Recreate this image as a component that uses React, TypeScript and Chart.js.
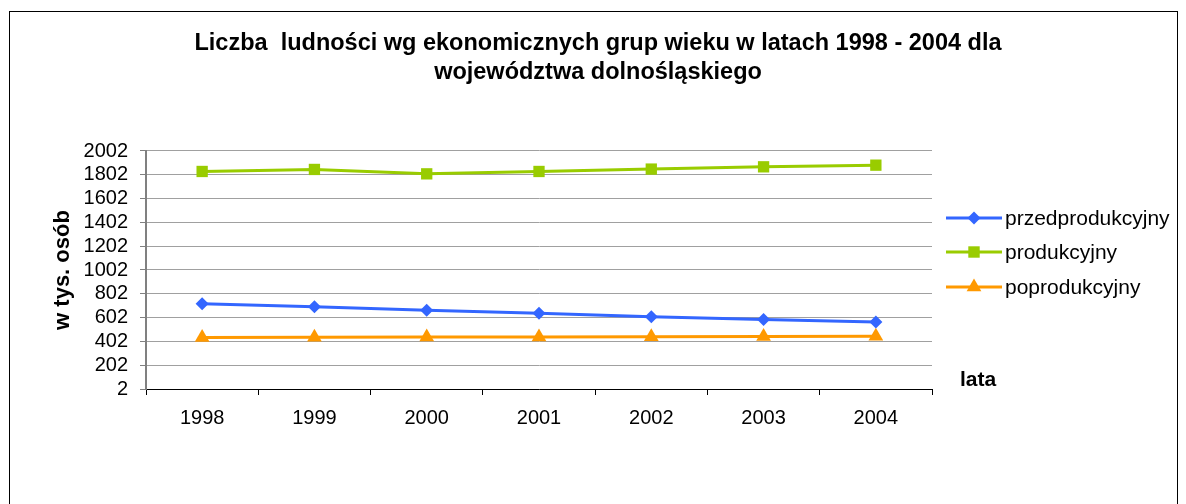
import React, { useEffect, useRef } from "react";
import { Chart, registerables } from "chart.js";

Chart.register(...registerables);

const years = ["1998", "1999", "2000", "2001", "2002", "2003", "2004"];
const przedprodukcyjny = [719, 694, 663, 638, 610, 585, 566];
const produkcyjny = [1830, 1847, 1810, 1830, 1850, 1869, 1883];
const poprodukcyjny = [434, 437, 438, 440, 442, 444, 446];
const seriesNames = ["przedprodukcyjny", "produkcyjny", "poprodukcyjny"];
const titleLines = [
  "Liczba  ludności wg ekonomicznych grup wieku w latach 1998 - 2004 dla",
  "województwa dolnośląskiego",
];
const yTitle = "w tys. osób";
const xTitle = "lata";

const FONT = "'Liberation Sans', Arial, sans-serif";
const BLUE = "#3366FF";
const GREEN = "#99CC00";
const ORANGE = "#FF9900";

function drawMarker(ctx: CanvasRenderingContext2D, kind: number, x: number, y: number) {
  ctx.beginPath();
  if (kind === 0) {
    ctx.moveTo(x, y - 6.5);
    ctx.lineTo(x + 6.5, y);
    ctx.lineTo(x, y + 6.5);
    ctx.lineTo(x - 6.5, y);
  } else if (kind === 1) {
    ctx.rect(x - 5.7, y - 5.7, 11.4, 11.4);
  } else {
    const r = 8.5;
    ctx.moveTo(x, y - r);
    ctx.lineTo(x + r * 0.866, y + r / 2);
    ctx.lineTo(x - r * 0.866, y + r / 2);
  }
  ctx.closePath();
  ctx.fill();
}

export default function App() {
  const ref = useRef<HTMLCanvasElement | null>(null);
  useEffect(() => {
    if (!ref.current) return;
    const decor = {
      id: "decor",
      beforeDraw(chart: any) {
        const ctx = chart.ctx;
        ctx.save();
        ctx.fillStyle = "#ffffff";
        ctx.fillRect(0, 0, chart.width, chart.height);
        ctx.strokeStyle = "#000000";
        ctx.lineWidth = 1;
        ctx.strokeRect(9.5, 11.5, 1168, 520);
        ctx.restore();
      },
      afterDraw(chart: any) {
        const ctx = chart.ctx;
        ctx.save();
        ctx.fillStyle = "#000";
        ctx.font = `bold 21px ${FONT}`;
        ctx.textBaseline = "middle";
        ctx.textAlign = "left";
        ctx.fillText(xTitle, 960, 380);
        const colors = [BLUE, GREEN, ORANGE];
        const rowsY = [218, 252, 287];
        ctx.font = `21px ${FONT}`;
        for (let i = 0; i < 3; i++) {
          const y = rowsY[i];
          ctx.strokeStyle = colors[i];
          ctx.lineWidth = 3;
          ctx.beginPath();
          ctx.moveTo(946, y);
          ctx.lineTo(1002, y);
          ctx.stroke();
          ctx.fillStyle = colors[i];
          drawMarker(ctx, i, 974, y);
          ctx.fillStyle = "#000";
          ctx.fillText(seriesNames[i], 1005, y + 1);
        }
        ctx.restore();
      },
    };

    const chart = new Chart(ref.current, {
      type: "line",
      data: {
        labels: years,
        datasets: [
          {
            label: seriesNames[0],
            data: przedprodukcyjny,
            borderColor: BLUE,
            backgroundColor: BLUE,
            borderWidth: 3,
            pointStyle: "rectRot",
            pointRadius: 6.5,
            pointBorderWidth: 0,
            tension: 0,
          },
          {
            label: seriesNames[1],
            data: produkcyjny,
            borderColor: GREEN,
            backgroundColor: GREEN,
            borderWidth: 3,
            pointStyle: "rect",
            pointRadius: 8,
            pointBorderWidth: 0,
            tension: 0,
          },
          {
            label: seriesNames[2],
            data: poprodukcyjny,
            borderColor: ORANGE,
            backgroundColor: ORANGE,
            borderWidth: 3,
            pointStyle: "triangle",
            pointRadius: 8.5,
            pointBorderWidth: 0,
            tension: 0,
          },
        ],
      },
      options: {
        responsive: false,
        animation: false,
        devicePixelRatio: 1,
        layout: { padding: { left: 10, right: 0, top: 0, bottom: 0 } },
        plugins: {
          legend: { display: false },
          tooltip: { enabled: false },
          title: {
            display: true,
            text: titleLines,
            color: "#000",
            font: { family: FONT, size: 23.5, weight: "bold", lineHeight: 1.234 },
            padding: { top: 29.5, bottom: 63.5 },
          },
        },
        scales: {
          x: {
            type: "category",
            offset: true,
            grid: {
              display: true,
              offset: true,
              drawOnChartArea: false,
              drawTicks: true,
              tickLength: 6,
              color: "#000",
            },
            border: { display: true, color: "#000", width: 1 },
            ticks: {
              color: "#000",
              font: { family: FONT, size: 20 },
              padding: 11,
              maxRotation: 0,
              autoSkip: false,
            },
            afterFit: (s: any) => {
              s.height = 115;
            },
          },
          y: {
            position: "left",
            min: 2,
            max: 2002,
            ticks: {
              stepSize: 200,
              color: "#000",
              font: { family: FONT, size: 20, lineHeight: 1 },
              padding: 12,
              autoSkip: false,
              callback: (v: any) => String(v),
            },
            grid: {
              color: "#A0A0A0",
              tickLength: 6,
              tickColor: "#808080",
            },
            border: { display: true, color: "#808080", width: 2 },
            title: {
              display: true,
              text: yTitle,
              color: "#000",
              font: { family: FONT, size: 22, weight: "bold" },
              padding: { top: 40, bottom: 0 },
            },
            afterFit: (s: any) => {
              s.width = 136;
            },
          },
          y2: {
            position: "right",
            display: true,
            ticks: { display: false },
            grid: { display: false },
            border: { display: false },
            afterFit: (s: any) => {
              s.width = 254;
            },
          },
        },
      },
      plugins: [decor],
    });
    return () => chart.destroy();
  }, []);

  return (
    <div style={{ position: "absolute", left: 0, top: 0, width: 1186, height: 504 }}>
      <canvas ref={ref} width={1186} height={504} />
    </div>
  );
}
